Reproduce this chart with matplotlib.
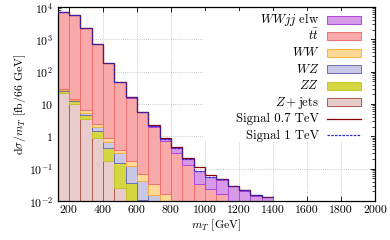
import numpy as np
import matplotlib
matplotlib.use("Agg")
import matplotlib.pyplot as plt
from matplotlib.patches import Rectangle
from matplotlib.lines import Line2D

# ---------------- data ----------------
bin_start = 400.0 / 3.0
bin_width = 200.0 / 3.0
n_bins = 19

zjets = [22.3, 9.9, 3.41, 0.90, 0.171, 0.0255, 0, 0, 0, 0, 0, 0, 0, 0, 0, 0, 0, 0, 0]
zz    = [2.4, 2.4, 1.12, 0.52, 0.27, 0.12, 0.0356, 0.0111, 0, 0, 0, 0, 0, 0, 0, 0, 0, 0, 0]
wz    = [2.1, 0.9, 0.69, 0.47, 0.236, 0.151, 0.083, 0.030, 0.0151, 0, 0, 0, 0, 0, 0, 0, 0, 0, 0]
ww    = [1.8, 1.5, 1.25, 0.53, 0.224, 0.094, 0.058, 0.025, 0.0173, 0.016, 0, 0, 0, 0, 0, 0, 0, 0, 0]
ttbar = [7121, 5515, 2283, 697, 179.7, 48.3, 15.5, 5.41, 1.92, 0.68, 0.316, 0.126, 0.033, 0.0227, 0.0163, 0, 0, 0, 0]
wwjj  = [0.25, 0.35, 0.4, 0.4, 0.38, 0.33, 0.28, 0.22, 0.15, 0.145, 0.124, 0.071, 0.051, 0.031, 0.029, 0.028, 0.0205, 0.0138, 0.0131]
sig07 = [0.02, 0.03, 0.04, 0.05, 0.06, 0.07, 0.08, 0.08, 0.07, 0.03, 0.02, 0.015, 0.025, 0.008, 0.0033, 0.0003, 0.0011, 0.0013, 0.0002]
sig1  = [0.01, 0.01, 0.02, 0.02, 0.03, 0.03, 0.03, 0.03, 0.03, 0.01, 0.01, 0.005, 0.0, 0.0, 0.001, 0.0007, 0.0016, 0.0011, 0.0002]

labels = [r"$WWjj$ elw", r"$t\bar{t}$", r"$WW$", r"$WZ$", r"$ZZ$", r"$Z+\mathrm{jets}$"]
sig_labels = ["Signal 0.7 TeV", "Signal 1 TeV"]
xticks = [200, 400, 600, 800, 1000, 1200, 1400, 1600, 1800, 2000]
yticks = [1e-2, 1e-1, 1, 10, 1e2, 1e3, 1e4]
yticklabels = [r"$10^{-2}$", r"$10^{-1}$", r"$1$", r"$10$", r"$10^{2}$", r"$10^{3}$", r"$10^{4}$"]

# ---------------- style ----------------
plt.rcParams['font.family'] = 'serif'
plt.rcParams['font.serif'] = ['cmr10', 'DejaVu Serif']
plt.rcParams['mathtext.fontset'] = 'cm'
plt.rcParams['axes.unicode_minus'] = False
plt.rcParams['axes.formatter.use_mathtext'] = True

W, H = 390, 240
fs = 8.5
lfs = 9.2
fig = plt.figure(figsize=(W / 100, H / 100), dpi=100)
ax_l, ax_r, ax_t, ax_b = 57.5, 375.0, 7.0, 201.0
ax = fig.add_axes([ax_l / W, 1 - ax_b / H, (ax_r - ax_l) / W, (ax_b - ax_t) / H])

edges = bin_start + bin_width * np.arange(n_bins + 1)
lefts = edges[:-1]

# stack bottom -> top
stack = [
    (zjets, '#e8cccc', '#b05a50'),
    (zz,    '#d6d640', '#c4c430'),
    (wz,    '#c8c8e6', '#6e6eb4'),
    (ww,    '#ffda96', '#f5b040'),
    (ttbar, '#f8aaaa', '#f07070'),
    (wwjj,  '#d69ae8', '#b048d8'),
]
cum = np.zeros(n_bins)
for vals, fc, ec in stack:
    v = np.array(vals, dtype=float)
    m = v > 0
    ax.bar(lefts[m], v[m], width=bin_width, bottom=np.where(cum[m] > 0, cum[m], 1e-4),
           align='edge', color=fc, edgecolor=ec, linewidth=0.7, zorder=2)
    cum = cum + v

tot07 = cum + np.array(sig07)
tot1 = cum + np.array(sig1)
ax.stairs(tot07, edges, baseline=None, color='#8b0000', linewidth=0.9, zorder=4)
ax.stairs(tot1, edges, baseline=None, color='#2a2ad0', linewidth=0.9,
          linestyle=(0, (2.0, 1.0)), zorder=5)

ax.set_yscale('log')
ax.set_xlim(bin_start, 2000)
ax.set_ylim(1e-2, 1e4)
ax.set_xticks(xticks)
ax.set_xticklabels([str(t) for t in xticks], fontsize=fs)
ax.set_yticks(yticks)
ax.set_yticklabels(yticklabels, fontsize=fs)
ax.tick_params(which='both', direction='in', top=True, right=True, pad=3)
ax.tick_params(which='major', length=3.5, width=0.6)
ax.tick_params(which='minor', length=2, width=0.5)
ax.tick_params(axis='x', which='minor', bottom=False, top=False)
ax.grid(True, which='major', linestyle=(0, (1, 1.5)), color='#b8b8b8', linewidth=0.6, zorder=0)
ax.set_axisbelow(True)
for s in ax.spines.values():
    s.set_linewidth(0.9)

ax.set_xlabel(r"$m_T$ [GeV]", fontsize=fs, labelpad=2)
ax.set_ylabel(r"$\mathrm{d}\sigma/m_T$ [fb/66 GeV]", fontsize=fs, labelpad=1)

# ---------------- manual legend ----------------
def fx(px):
    return (px - ax_l) / (ax_r - ax_l)

def fy(py):
    return (ax_b - py) / (ax_b - ax_t)

# opaque key box (hides grid behind the key, leaves frame ticks visible)
bx0, bx1, by0, by1 = 203.5, 371.3, 10.7, 142.0
ax.add_patch(Rectangle((fx(bx0), fy(by1)), fx(bx1) - fx(bx0), fy(by0) - fy(by1),
                       transform=ax.transAxes, facecolor='white', edgecolor='none',
                       zorder=1))

legend_styles = [s for s in stack[::-1]]
row0, drow = 20.0, 16.45
x_text, x_h0, x_h1 = 319.0, 327.0, 361.0
patch_h = 8.0
all_labels = labels + sig_labels
for i, lab in enumerate(all_labels):
    yc = row0 + i * drow
    ax.text(fx(x_text), fy(yc + 3.4), lab, transform=ax.transAxes, ha='right',
            va='baseline', fontsize=lfs, zorder=6)
    if i < len(labels):
        _, fc, ec = legend_styles[i]
        ax.add_patch(Rectangle((fx(x_h0), fy(yc + patch_h / 2)), fx(x_h1) - fx(x_h0),
                               fy(yc - patch_h / 2) - fy(yc + patch_h / 2),
                               transform=ax.transAxes, facecolor=fc, edgecolor=ec,
                               linewidth=0.7, zorder=6))
    else:
        if i == len(labels):
            kw = dict(color='#8b0000', linewidth=0.9)
        else:
            kw = dict(color='#2a2ad0', linewidth=0.9, linestyle=(0, (2.0, 1.0)))
        ax.add_line(Line2D([fx(x_h0), fx(x_h1)], [fy(yc), fy(yc)],
                           transform=ax.transAxes, zorder=6, **kw))

fig.savefig('out.png', dpi=100)
